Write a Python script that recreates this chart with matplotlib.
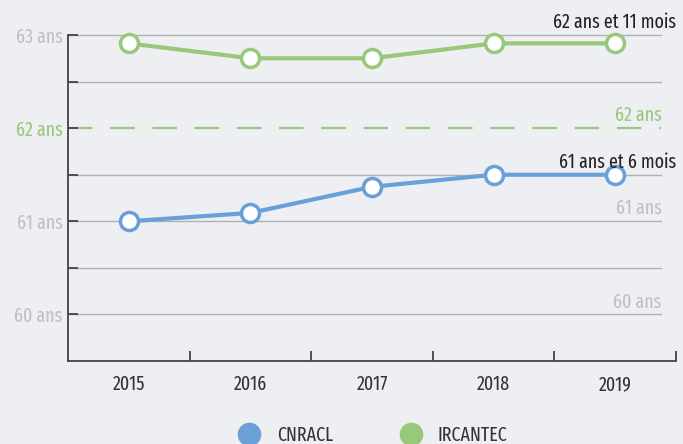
import matplotlib
matplotlib.use("Agg")
import matplotlib.pyplot as plt
from matplotlib.lines import Line2D

plt.rcParams['font.family'] = ['Fira Sans Extra Condensed', 'DejaVu Sans']

annees = ['2015', '2016', '2017', '2018', '2019']
cnracl = [61.0, 61.09, 61.37, 61.5, 61.5]
ircantec = [62.91, 62.75, 62.75, 62.91, 62.91]
labels_y = ['60 ans', '', '61 ans', '', '62 ans', '', '63 ans']

bleu = '#6a9fd8'
vert = '#99c87a'
gris = '#bfc0c4'
fond = '#eeeff3'
fs = 14

fig = plt.figure(figsize=(6.83, 4.44), dpi=100, facecolor=fond)
ax = fig.add_axes([68/683, 83/444, 608/683, 326/444], facecolor=fond)

x = range(len(annees))
ax.set_xlim(-0.5, 4.5)
ax.set_ylim(59.5, 63)

# grille horizontale (sauf 62, remplacée par les tirets verts)
for yv in [60, 60.5, 61, 61.5, 62.5, 63]:
    ax.plot([-0.5, 4.38], [yv, yv], color='#b0b1b5', lw=1, zorder=1, clip_on=False)
ax.plot([-0.5, 4.38], [62, 62], color=vert, lw=1.6, dashes=(11, 8), zorder=1)

ax.plot(x, cnracl, color=bleu, lw=3, marker='o', ms=13, mfc='white', mec=bleu, mew=2.5, zorder=3, clip_on=False)
ax.plot(x, ircantec, color=vert, lw=3, marker='o', ms=13, mfc='white', mec=vert, mew=2.5, zorder=3, clip_on=False)

for s in ['top', 'right']:
    ax.spines[s].set_visible(False)
for s in ['left', 'bottom']:
    ax.spines[s].set_color('#444444')
    ax.spines[s].set_linewidth(1.3)

ax.set_yticks([60, 60.5, 61, 61.5, 62, 62.5, 63])
ax.set_yticklabels(labels_y)
ax.tick_params(axis='y', direction='in', length=7, width=1.3, color='#444444', labelsize=fs, labelcolor=gris, pad=4)
ax.get_yticklabels()[4].set_color(vert)

ax.set_xticks([0.5, 1.5, 2.5, 3.5, 4.5])
ax.set_xticks(list(x), minor=True)
ax.set_xticklabels([])
ax.set_xticklabels(annees, minor=True)
ax.tick_params(axis='x', which='major', direction='in', length=7, width=1.3, color='#444444')
ax.tick_params(axis='x', which='minor', length=0, labelsize=fs, labelcolor='#333333', pad=10)

# étiquettes à droite
ax.text(4.38, 62.03, '62 ans', color=vert, fontsize=fs, ha='right', va='bottom')
ax.text(4.38, 61.03, '61 ans', color=gris, fontsize=fs, ha='right', va='bottom')
ax.text(4.38, 60.03, '60 ans', color=gris, fontsize=fs, ha='right', va='bottom')
ax.text(4.5, 63.03, '62 ans et 11 mois', color='#222222', fontsize=fs, ha='right', va='bottom')
ax.text(4.5, 61.53, '61 ans et 6 mois', color='#222222', fontsize=fs, ha='right', va='bottom')

handles = [Line2D([], [], ls='', marker='o', ms=16, color=bleu),
           Line2D([], [], ls='', marker='o', ms=16, color=vert)]
fig.legend(handles, ['CNRACL', 'IRCANTEC'], loc='center', bbox_to_anchor=(0.54, 0.02),
           ncol=2, frameon=False, fontsize=fs, columnspacing=3, handletextpad=0.4,
           labelcolor='#333333')

fig.savefig('out.png', dpi=100, facecolor=fond)
